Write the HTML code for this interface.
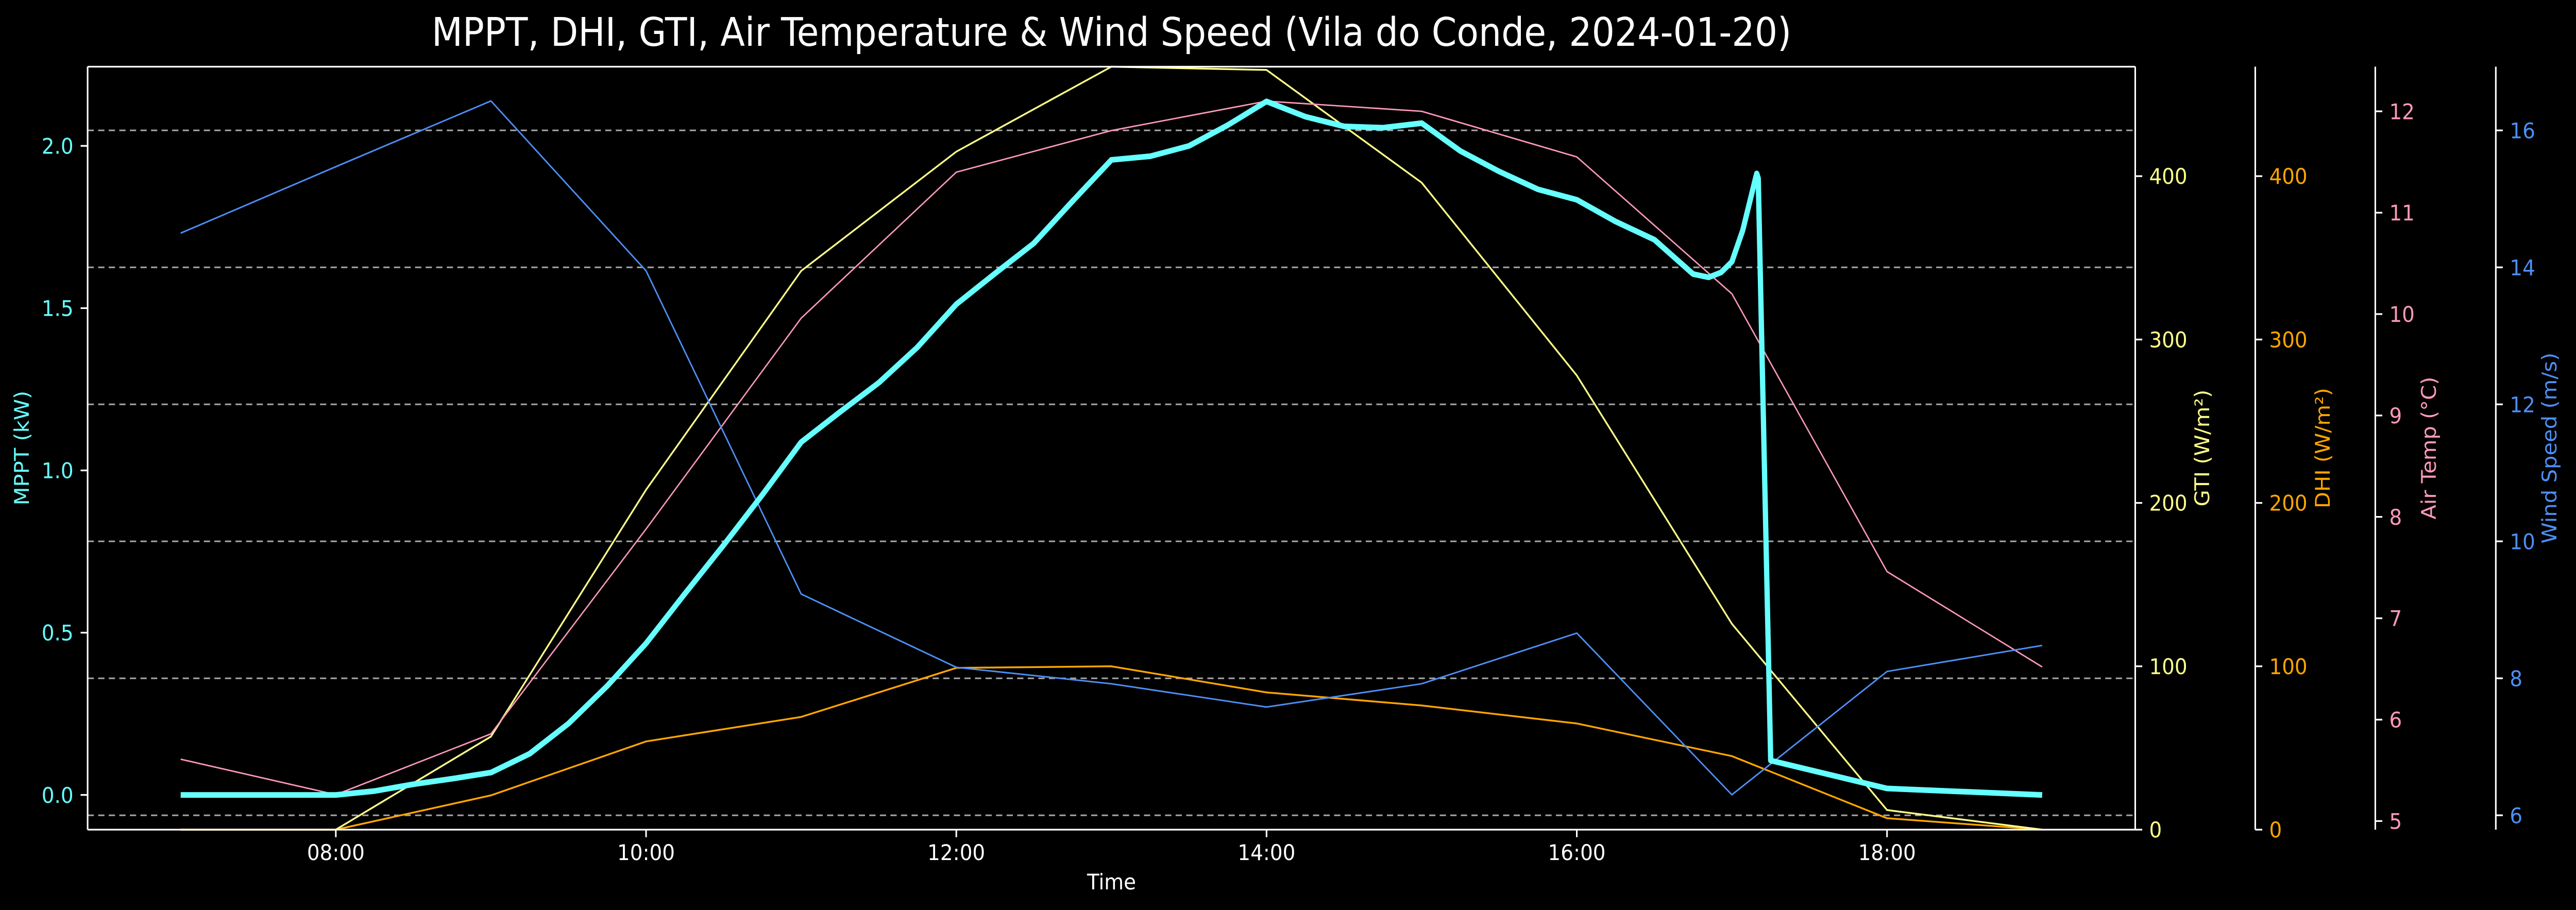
<!DOCTYPE html>
<html><head><meta charset="utf-8"><title>MPPT chart</title>
<style>
html,body{margin:0;padding:0;background:#000;width:100%;height:100%;overflow:hidden;}
svg{position:absolute;left:0;top:0;width:100vw;height:100vh;display:block;font-family:"DejaVu Sans","Liberation Sans",sans-serif;}
</style>
</head><body>
<svg id="chart" xmlns="http://www.w3.org/2000/svg" viewBox="0 0 5365 1767" preserveAspectRatio="none">
<rect width="5365" height="1767" fill="#000"/>
<text x="2315" y="89" fill="#fff" font-size="77" text-anchor="middle" textLength="2832" lengthAdjust="spacingAndGlyphs">MPPT, DHI, GTI, Air Temperature &amp; Wind Speed (Vila do Conde, 2024-01-20)</text>
<g id="grid"></g>
<g id="series"></g>
<g id="axes"></g>
</svg>
<script>
// ---- data ----
const hours = [7,8,9,10,11,12,13,14,15,16,17,18,19];
const gtiValues = [0,0,57,208,342,415,467,465,396,278,126,12,0];
const dhiValues = [0,0,21,54,69,99,100,84,76,65,45,7,0];
const tempValues = [5.61,5.26,5.86,7.88,9.96,11.40,11.81,12.10,12.0,11.55,10.2,7.46,6.52];
const windValues = [14.5,15.47,16.43,13.95,9.23,8.16,7.92,7.58,7.92,8.66,6.30,8.1,8.48];
const mpptHours = [7,8,8.25,8.5,8.75,9,9.25,9.5,9.75,10,10.25,10.5,10.75,11,11.25,11.5,11.75,12,12.25,12.5,12.75,13,13.25,13.5,13.75,14,14.25,14.5,14.75,15,15.25,15.5,15.75,16,16.25,16.5,16.75,16.85,16.93,17,17.07,17.16,17.17,17.25,18,19];
const mpptKw = [0,0,0.012,0.033,0.05,0.069,0.127,0.22,0.336,0.467,0.62,0.77,0.925,1.087,1.18,1.27,1.38,1.512,1.607,1.70,1.83,1.957,1.968,2.0,2.064,2.137,2.09,2.06,2.056,2.07,1.984,1.921,1.866,1.834,1.767,1.711,1.605,1.595,1.61,1.643,1.74,1.915,1.90,0.106,0.02,0.0];
const xTicks = [8,10,12,14,16,18];
const xTickLabels = ["08:00","10:00","12:00","14:00","16:00","18:00"];
const mpptTicks = [0,0.5,1,1.5,2];
const mpptTickLabels = ["0.0","0.5","1.0","1.5","2.0"];
const gtiTicks = [0,100,200,300,400];
const dhiTicks = [0,100,200,300,400];
const tempTicks = [5,6,7,8,9,10,11,12];
const windTicks = [6,8,10,12,14,16];

// ---- layout ----
const L=182.5, R=4447, T=129.5, B=1611;
const NS='http://www.w3.org/2000/svg';
function lin(d0,d1,r0,r1){return v=>r0+(v-d0)*(r1-r0)/(d1-d0);}
const xS = lin(6.4,19.6,L,R);
const yM = lin(-0.107,2.244,B,T);
const yG = lin(0,467,B,T);
const yD = lin(0,467,B,T);
const yT = lin(4.915,12.44,B,T);
const yW = lin(5.79,16.93,B,T);
const C={mppt:'#66ffff',gti:'#ffff88',dhi:'#ffa500',temp:'#ff99bb',wind:'#4d8ff5'};
const grid=document.getElementById('grid'), ser=document.getElementById('series'), ax=document.getElementById('axes');
function mk(tag,attrs,parent){const e=document.createElementNS(NS,tag);for(const k in attrs)e.setAttribute(k,attrs[k]);parent.appendChild(e);return e;}

// grid (wind axis)
windTicks.forEach(v=>{
  const g=mk('line',{x1:L,x2:R,y1:yW(v),y2:yW(v),stroke:'#a8a8a8','stroke-width':3,'stroke-dasharray':'13,9'},grid);
  
  
});

function series(xs,ys,yScale,color,w,name){
  const d=xs.map((h,i)=>(i?'L':'M')+xS(h).toFixed(1)+','+yScale(ys[i]).toFixed(1)).join(' ');
  const p=mk('path',{d:d,fill:'none',stroke:color,'stroke-width':w,'stroke-linejoin':'round','stroke-linecap':'butt'},ser);
  
  
}
series(hours,dhiValues,yD,C.dhi,3.5,'dhi-line');
series(hours,gtiValues,yG,C.gti,3.5,'gti-line');
series(hours,tempValues,yT,C.temp,2.8,'air-temp-line');
series(hours,windValues,yW,C.wind,3,'wind-speed-line');
series(mpptHours,mpptKw,yM,C.mppt,11,'mppt-line');

// spines
function line(x1,y1,x2,y2,name){const l=mk('line',{x1:x1,y1:y1,x2:x2,y2:y2,stroke:'#fff','stroke-width':3.3},ax);
  
  }
line(L,T,R,T,'top-spine');line(L,B,R,B,'bottom-spine');line(L,T,L,B,'left-spine');line(R,T,R,B,'gti-spine');
line(4697,T,4697,B,'dhi-spine');line(4947,T,4947,B,'air-temp-spine');line(5198,T,5198,B,'wind-spine');

function txt(s,x,y,color,anchor,name,rot){
  const t=mk('text',{x:x,y:y,fill:color,'font-size':41.7,'text-anchor':anchor},ax);
  if(rot)t.setAttribute('transform','rotate(-90 '+x+' '+y+')');
  t.textContent=s;
  
  
}
// x ticks
xTicks.forEach((h,i)=>{line(xS(h),B,xS(h),B+14.6,'x-tick-'+xTickLabels[i]);txt(xTickLabels[i],xS(h),1670,'#fff','middle','x-tick-label');});
// left mppt ticks
mpptTicks.forEach((v,i)=>{line(L-14.6,yM(v),L,yM(v),'mppt-tick');txt(mpptTickLabels[i],153,yM(v)+15.2,C.mppt,'end','mppt-tick-label');});
function rTicks(ticks,scale,sx,color,nm){ticks.forEach(v=>{line(sx,scale(v),sx+14.6,scale(v),nm+'-tick');txt(String(v),sx+29,scale(v)+15.2,color,'start',nm+'-tick-label');});}
rTicks(gtiTicks,yG,R,C.gti,'gti');
rTicks(dhiTicks,yD,4697,C.dhi,'dhi');
rTicks(tempTicks,yT,4947,C.temp,'air-temp');
rTicks(windTicks,yW,5198,C.wind,'wind');
// axis labels
txt('Time',2315,1727,'#fff','middle','x-axis-title');
txt('MPPT (kW)',60,870,C.mppt,'middle','mppt-axis-title',true);
txt('GTI (W/m²)',4601,870,C.gti,'middle','gti-axis-title',true);
txt('DHI (W/m²)',4852,870,C.dhi,'middle','dhi-axis-title',true);
txt('Air Temp (°C)',5073,870,C.temp,'middle','air-temp-axis-title',true);
txt('Wind Speed (m/s)',5324,870,C.wind,'middle','wind-axis-title',true);
</script>
</body></html>
